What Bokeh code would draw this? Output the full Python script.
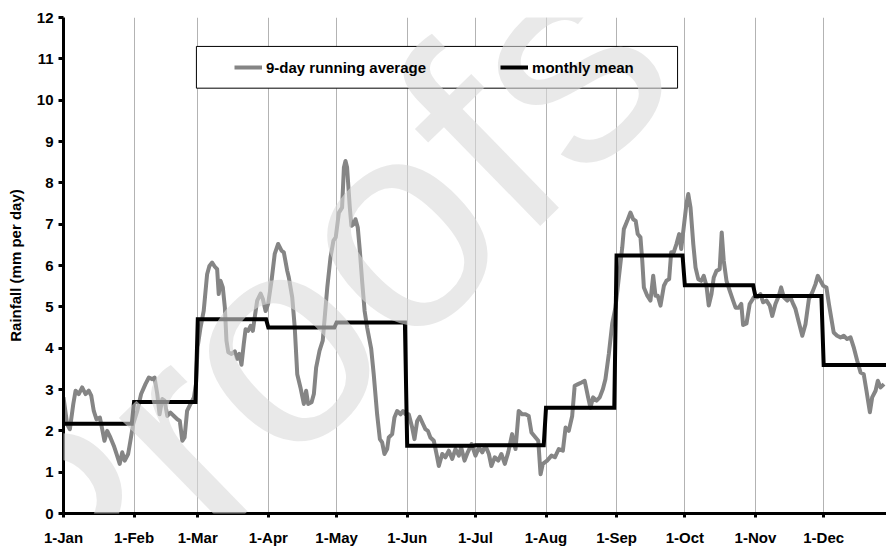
from bokeh.plotting import figure
from bokeh.models import Range1d, FixedTicker, SingleIntervalTicker, Legend, BoxAnnotation, Label
from bokeh.embed import file_html
from bokeh.resources import INLINE

# ---------------- data ----------------
month_labels = ["1-Jan", "1-Feb", "1-Mar", "1-Apr", "1-May", "1-Jun",
                "1-Jul", "1-Aug", "1-Sep", "1-Oct", "1-Nov", "1-Dec"]
month_starts = [0, 31, 59, 90, 120, 151, 181, 212, 243, 273, 304, 334]
monthly_mean = [2.17, 2.70, 4.70, 4.50, 4.62, 1.64, 1.65, 2.56, 6.24, 5.52, 5.26, 3.59]

avg_days = [
    0, 1.6, 2.8, 4.3, 5.3, 6.7, 8.2, 9.7, 11.1, 12.2, 13.3, 14.5, 16.0, 17.0, 18.0, 19.2,
    20.6, 22.1, 23.3, 24.7, 25.8, 26.9, 28.4, 29.4, 30.6,
    32.4, 34.1, 36.0, 37.5, 39.0, 40.0, 41.2, 42.2, 43.4, 44.4, 45.6, 47.0, 48.5, 50.0,
    51.1, 52.2, 53.2, 54.3, 55.8, 57.3, 58.2, 58.9,
    60.2, 61.6, 63.1, 64.1, 65.3, 66.5, 67.5, 68.2, 69.0, 70.0, 70.9, 71.6, 72.4, 73.8,
    75.3, 76.3, 77.3, 78.2, 79.2, 80.0, 81.1, 82.2, 83.2, 84.0, 85.1, 86.6, 87.6, 88.8, 89.9,
    91.4, 92.8, 94.3, 95.8, 96.8, 98.3, 99.0, 100.5, 101.6, 102.7, 104.1, 105.6, 106.6,
    107.5, 109.0, 110.0, 111.0, 112.5, 113.9, 115.9, 117.3, 118.6, 119.6,
    121.0, 122.4, 123.2, 123.9, 124.6, 125.8, 126.5, 127.5, 128.3, 129.3, 130.2, 131.2,
    132.3, 133.4, 135.2, 136.3, 137.8, 139.0, 140.0, 141.0, 142.2, 142.9, 144.4, 145.4,
    146.6, 148.1, 149.2, 150.3,
    151.7, 153.2, 154.2, 155.4, 156.5, 158.0, 159.0, 160.1, 161.2, 162.7, 163.9, 164.9,
    166.4, 167.8, 169.3, 170.8, 172.2, 173.7, 174.7, 176.2, 177.6, 179.3,
    181.0, 182.5, 184.0, 185.4, 186.9, 188.0, 189.5, 191.0, 192.4, 193.9, 195.4, 197.1,
    198.6, 200.0, 201.5, 203.0, 204.4, 205.6, 207.4, 208.6, 209.6, 210.6,
    212.5, 214.4, 215.9, 217.6, 219.4, 220.6, 222.0, 223.5, 224.6, 226.1, 227.6, 229.0,
    230.5, 231.5, 232.7, 234.2, 235.6, 237.0, 238.1, 239.6, 241.1, 242.5,
    244.0, 245.5, 246.2, 247.7, 249.1, 250.3, 251.4, 252.3, 253.5, 254.3, 255.0, 256.5,
    257.9, 259.1, 260.1, 261.1, 262.3, 263.8, 264.9, 266.1, 267.0, 268.1, 269.3, 270.5,
    271.4, 272.5,
    273.7, 274.5, 275.5, 276.7, 277.7, 278.9, 280.2, 281.3, 282.5, 283.5, 284.7, 285.7,
    286.9, 288.3, 289.2, 290.1, 291.3, 292.7, 294.2, 295.3, 296.7, 297.8, 298.6, 300.1,
    301.5, 303.3,
    304.8, 306.2, 307.4, 308.9, 310.3, 311.4, 312.8, 314.3, 315.3, 316.5, 318.0, 319.4,
    320.6, 321.6, 323.1, 324.6, 326.0, 327.5, 329.0, 330.4, 331.4, 332.6, 333.8,
    335.2, 336.3, 337.3, 338.4, 339.9, 341.4, 342.8, 344.3, 345.8, 347.2, 348.7, 350.2,
    351.6, 352.8, 354.3, 355.3, 356.8, 357.8, 359.0, 360.5,
]
avg_rain = [
    2.81, 2.16, 2.04, 2.65, 2.97, 2.89, 3.05, 2.89, 2.97, 2.85, 2.48, 2.28, 2.32, 2.04, 1.76, 2.00,
    1.84, 1.64, 1.44, 1.20, 1.48, 1.28, 1.44, 1.76, 2.16,
    2.48, 2.89, 3.13, 3.29, 3.25, 3.29, 2.89, 2.40, 2.77, 2.73, 2.36, 2.44, 2.36, 2.28,
    2.24, 1.76, 1.84, 2.48, 2.65, 2.81, 3.13, 4.02,
    4.50, 4.90, 5.79, 5.99, 6.07, 5.97, 5.91, 5.31, 5.63, 5.47, 4.98, 4.18, 3.90, 3.86,
    3.92, 3.74, 3.86, 3.60, 4.10, 4.46, 4.42, 4.54, 4.42, 4.74, 5.15, 5.32, 5.19, 4.90, 5.07,
    5.63, 6.28, 6.52, 6.36, 6.32, 5.87, 5.71, 5.23, 4.50, 3.37, 3.05, 2.65, 2.97,
    2.65, 2.69, 2.89, 3.53, 3.94, 4.18, 5.47, 6.19, 6.60, 6.68,
    7.28, 7.40, 8.37, 8.53, 8.37, 7.40, 6.96, 7.00, 7.12, 6.92, 6.36, 5.63,
    4.90, 4.50, 3.98, 3.37, 2.40, 1.80, 1.72, 1.44, 1.56, 1.84, 1.92, 2.32,
    2.48, 2.40, 2.48, 2.40,
    2.40, 2.08, 1.80, 2.24, 2.34, 2.16, 2.04, 2.00, 1.84, 1.76, 1.44, 1.15,
    1.44, 1.36, 1.52, 1.32, 1.56, 1.40, 1.60, 1.28, 1.48, 1.68,
    1.40, 1.60, 1.48, 1.64, 1.44, 1.15, 1.36, 1.28, 1.44, 1.20, 1.48, 1.92,
    1.56, 2.48, 2.40, 2.40, 2.36, 1.96, 1.84, 1.76, 0.95, 1.20,
    1.28, 1.40, 1.36, 1.56, 1.52, 2.08, 2.00, 2.36, 3.09, 3.13, 3.17, 3.21,
    2.81, 2.56, 2.81, 2.73, 2.81, 3.01, 3.25, 3.86, 4.60, 4.98,
    5.71, 6.44, 6.88, 7.08, 7.28, 7.12, 7.08, 6.76, 6.68, 6.11, 5.47, 5.27,
    5.15, 5.75, 5.27, 5.27, 5.03, 5.51, 5.63, 5.67, 6.32, 6.32, 6.52, 6.76,
    6.40, 6.92,
    7.49, 7.73, 7.40, 6.52, 5.95, 5.67, 5.63, 5.75, 5.51, 5.03, 5.31, 5.71,
    5.87, 5.91, 6.80, 6.11, 5.63, 5.39, 5.15, 4.98, 4.98, 5.07, 4.56, 4.60,
    5.07, 5.23,
    5.23, 5.31, 5.11, 5.15, 5.03, 4.78, 5.07, 5.27, 5.47, 5.23, 5.15, 5.23,
    5.07, 4.95, 4.62, 4.30, 4.58, 5.19, 5.35, 5.55, 5.75, 5.63, 5.51,
    5.47, 5.07, 4.74, 4.38, 4.30, 4.26, 4.30, 4.22, 4.26, 4.02, 3.70, 3.41,
    3.37, 2.97, 2.45, 2.81, 2.97, 3.21, 3.05, 3.13,
]

# monthly mean as a step line (flat across each month)
month_ends = month_starts[1:] + [365]
step_x, step_y = [], []
for s, e, m in zip(month_starts, month_ends, monthly_mean):
    step_x += [s, e - 1]
    step_y += [m, m]

FONT = "Liberation Sans"

p = figure(width=886, height=548, x_range=Range1d(0, 361.6), y_range=Range1d(0, 12),
           output_backend="svg", toolbar_location=None,
           min_border_left=63, min_border_right=0, min_border_top=17, min_border_bottom=35)
p.outline_line_color = None
p.background_fill_color = "white"
p.border_fill_color = "white"

r_avg = p.line(avg_days, avg_rain, line_color="#858585", line_width=4, line_join="round")
r_mean = p.line(step_x, step_y, line_color="black", line_width=4, line_join="miter")

# grids
p.xgrid.ticker = FixedTicker(ticks=month_starts)
p.xgrid.grid_line_color = "#b3b3b3"
p.xgrid.grid_line_width = 1
p.ygrid.ticker = FixedTicker(ticks=[12])
p.ygrid.grid_line_color = "#b3b3b3"
p.ygrid.grid_line_width = 1

# axes
p.xaxis.ticker = FixedTicker(ticks=month_starts)
p.xaxis.major_label_overrides = {s: l for s, l in zip(month_starts, month_labels)}
p.yaxis.ticker = SingleIntervalTicker(interval=1)
for ax in (p.xaxis[0], p.yaxis[0]):
    ax.axis_line_color = "black"
    ax.axis_line_width = 3
    ax.major_tick_line_color = "black"
    ax.major_tick_line_width = 3
    ax.major_tick_in = 0
    ax.minor_tick_line_color = None
    ax.major_label_text_font = FONT
    ax.major_label_text_font_style = "bold"
    ax.major_label_text_font_size = "15px"
    ax.major_label_text_color = "black"
p.xaxis.major_tick_out = 4
p.xaxis.major_label_standoff = 11
p.yaxis.major_tick_out = 5
p.yaxis.major_label_standoff = 5
p.yaxis.axis_label = "Rainfall (mm per day)"
p.yaxis.axis_label_text_font = FONT
p.yaxis.axis_label_text_font_style = "bold"
p.yaxis.axis_label_text_font_size = "15px"
p.yaxis.axis_label_text_color = "black"
p.yaxis.axis_label_standoff = 10

# legend frame
box = BoxAnnotation(left=58.4, right=269.8, bottom=10.29, top=11.30,
                    fill_color="white", fill_alpha=1.0, line_color="black",
                    line_width=1, line_alpha=1.0)
p.add_layout(box)

legend = Legend(items=[("9-day running average", [r_avg]), ("monthly mean", [r_mean])],
                orientation="horizontal", location=(161, 426), margin=0, padding=10,
                glyph_width=28, glyph_height=20, label_standoff=4, spacing=74,
                border_line_alpha=0, background_fill_alpha=0,
                label_text_font=FONT, label_text_font_style="bold",
                label_text_font_size="15px", label_text_color="black")
p.add_layout(legend, "center")

# translucent watermark laid over the chart
wm = Label(x=-27.7, y=-2.3, text="Proofs", angle=0.773, text_font=FONT,
           text_font_size="297px", text_color="#d9d9d9", text_alpha=0.59,
           text_align="left", text_baseline="alphabetic", level="overlay")
p.add_layout(wm)

open("out.html", "w").write(file_html(p, INLINE))
